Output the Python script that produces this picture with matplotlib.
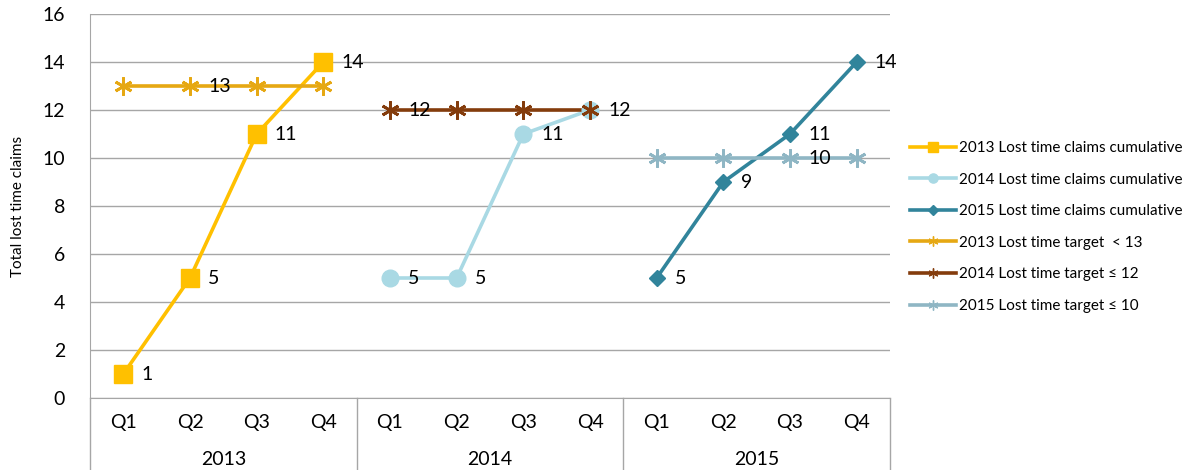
import matplotlib
matplotlib.use("Agg")
import matplotlib.pyplot as plt
from matplotlib.lines import Line2D

plt.rcParams['font.family'] = ['Lato', 'DejaVu Sans']

years = ["2013", "2014", "2015"]
quarters = ["Q1", "Q2", "Q3", "Q4"]

claims_2013 = [1, 5, 11, 14]
claims_2014 = [5, 5, 11, 12]
claims_2015 = [5, 9, 11, 14]
target_2013 = [13, 13, 13, 13]
target_2014 = [12, 12, 12, 12]
target_2015 = [10, 10, 10, 10]

# which points of each target line carry a value label
target_label_idx = {"2013": 1, "2014": 0, "2015": 2}

fig = plt.figure(figsize=(11.98, 4.70), dpi=100)
W, H = 1198, 470
ax = fig.add_axes([90 / W, (H - 398) / H, 800 / W, 384 / H])

ax.set_xlim(-0.5, 11.5)
ax.set_ylim(0, 16)
ax.set_yticks(range(0, 17, 2))
ax.yaxis.grid(True, color="#A6A6A6", linewidth=1)
ax.set_axisbelow(True)
for s in ["top", "right"]:
    ax.spines[s].set_visible(False)
ax.spines["left"].set_color("#A6A6A6")
ax.spines["bottom"].set_color("#A6A6A6")
ax.tick_params(axis="y", length=0, labelsize=14, pad=18)
ax.tick_params(axis="x", length=0, labelbottom=False)
fig.text(18 / W, 1 - 206 / H, "Total lost time claims", rotation=90,
         ha="center", va="center", fontsize=11)

star = (6, 2, 0)
series = [
    ("2013 Lost time claims cumulative", 0, claims_2013, "#FFC000", "s", 13, True),
    ("2014 Lost time claims cumulative", 1, claims_2014, "#A9D9E4", "o", 12, True),
    ("2015 Lost time claims cumulative", 2, claims_2015, "#31849B", "D", 8.5, True),
    ("2013 Lost time target  < 13", 0, target_2013, "#E6A813", star, 13, False),
    ("2014 Lost time target \u2264 12", 1, target_2014, "#843C0C", star, 13, False),
    ("2015 Lost time target \u2264 10", 2, target_2015, "#8FB6C4", star, 13, False),
]

handles = []
for label, yi, vals, color, marker, ms, is_claims in series:
    xs = [yi * 4 + q for q in range(4)]
    mew = 2.0 if not is_claims else 1
    # lines first, markers on top of every line
    ax.plot(xs, vals, color=color, linewidth=2.6, zorder=2)
    ax.plot(xs, vals, linestyle="none", marker=marker, markersize=ms,
            markerfacecolor=color, markeredgecolor=color,
            markeredgewidth=mew, zorder=3 if is_claims else 4)
    handles.append(Line2D([0], [0], color=color, linewidth=2.6, marker=marker,
                          markersize=ms * 0.55, markerfacecolor=color,
                          markeredgecolor=color, markeredgewidth=1))
    if is_claims:
        idx = range(4)
    else:
        idx = [target_label_idx[years[yi]]]
    for i in idx:
        ax.annotate(str(vals[i]), (xs[i], vals[i]), xytext=(13, 0),
                    textcoords="offset points", ha="left", va="center",
                    fontsize=14, color="black", zorder=5)

# category axis: quarter labels, year labels and group separators
trans = ax.get_xaxis_transform()
for yi, yr in enumerate(years):
    for q, ql in enumerate(quarters):
        ax.text(yi * 4 + q, -0.063, ql, transform=trans, ha="center",
                va="center", fontsize=14)
    ax.text(yi * 4 + 1.5, -0.16, yr, transform=trans, ha="center",
            va="center", fontsize=14)
for b in [-0.5, 3.5, 7.5, 11.5]:
    ax.plot([b, b], [0, -0.2], transform=trans, color="#A6A6A6",
            linewidth=1, clip_on=False)

fig.legend(handles, [s[0] for s in series], loc="center left",
           bbox_to_anchor=(896 / W, 1 - 227 / H), frameon=False,
           fontsize=11, handlelength=3.0, handletextpad=0.2,
           labelspacing=1.15)

fig.savefig("out.png", dpi=100)
